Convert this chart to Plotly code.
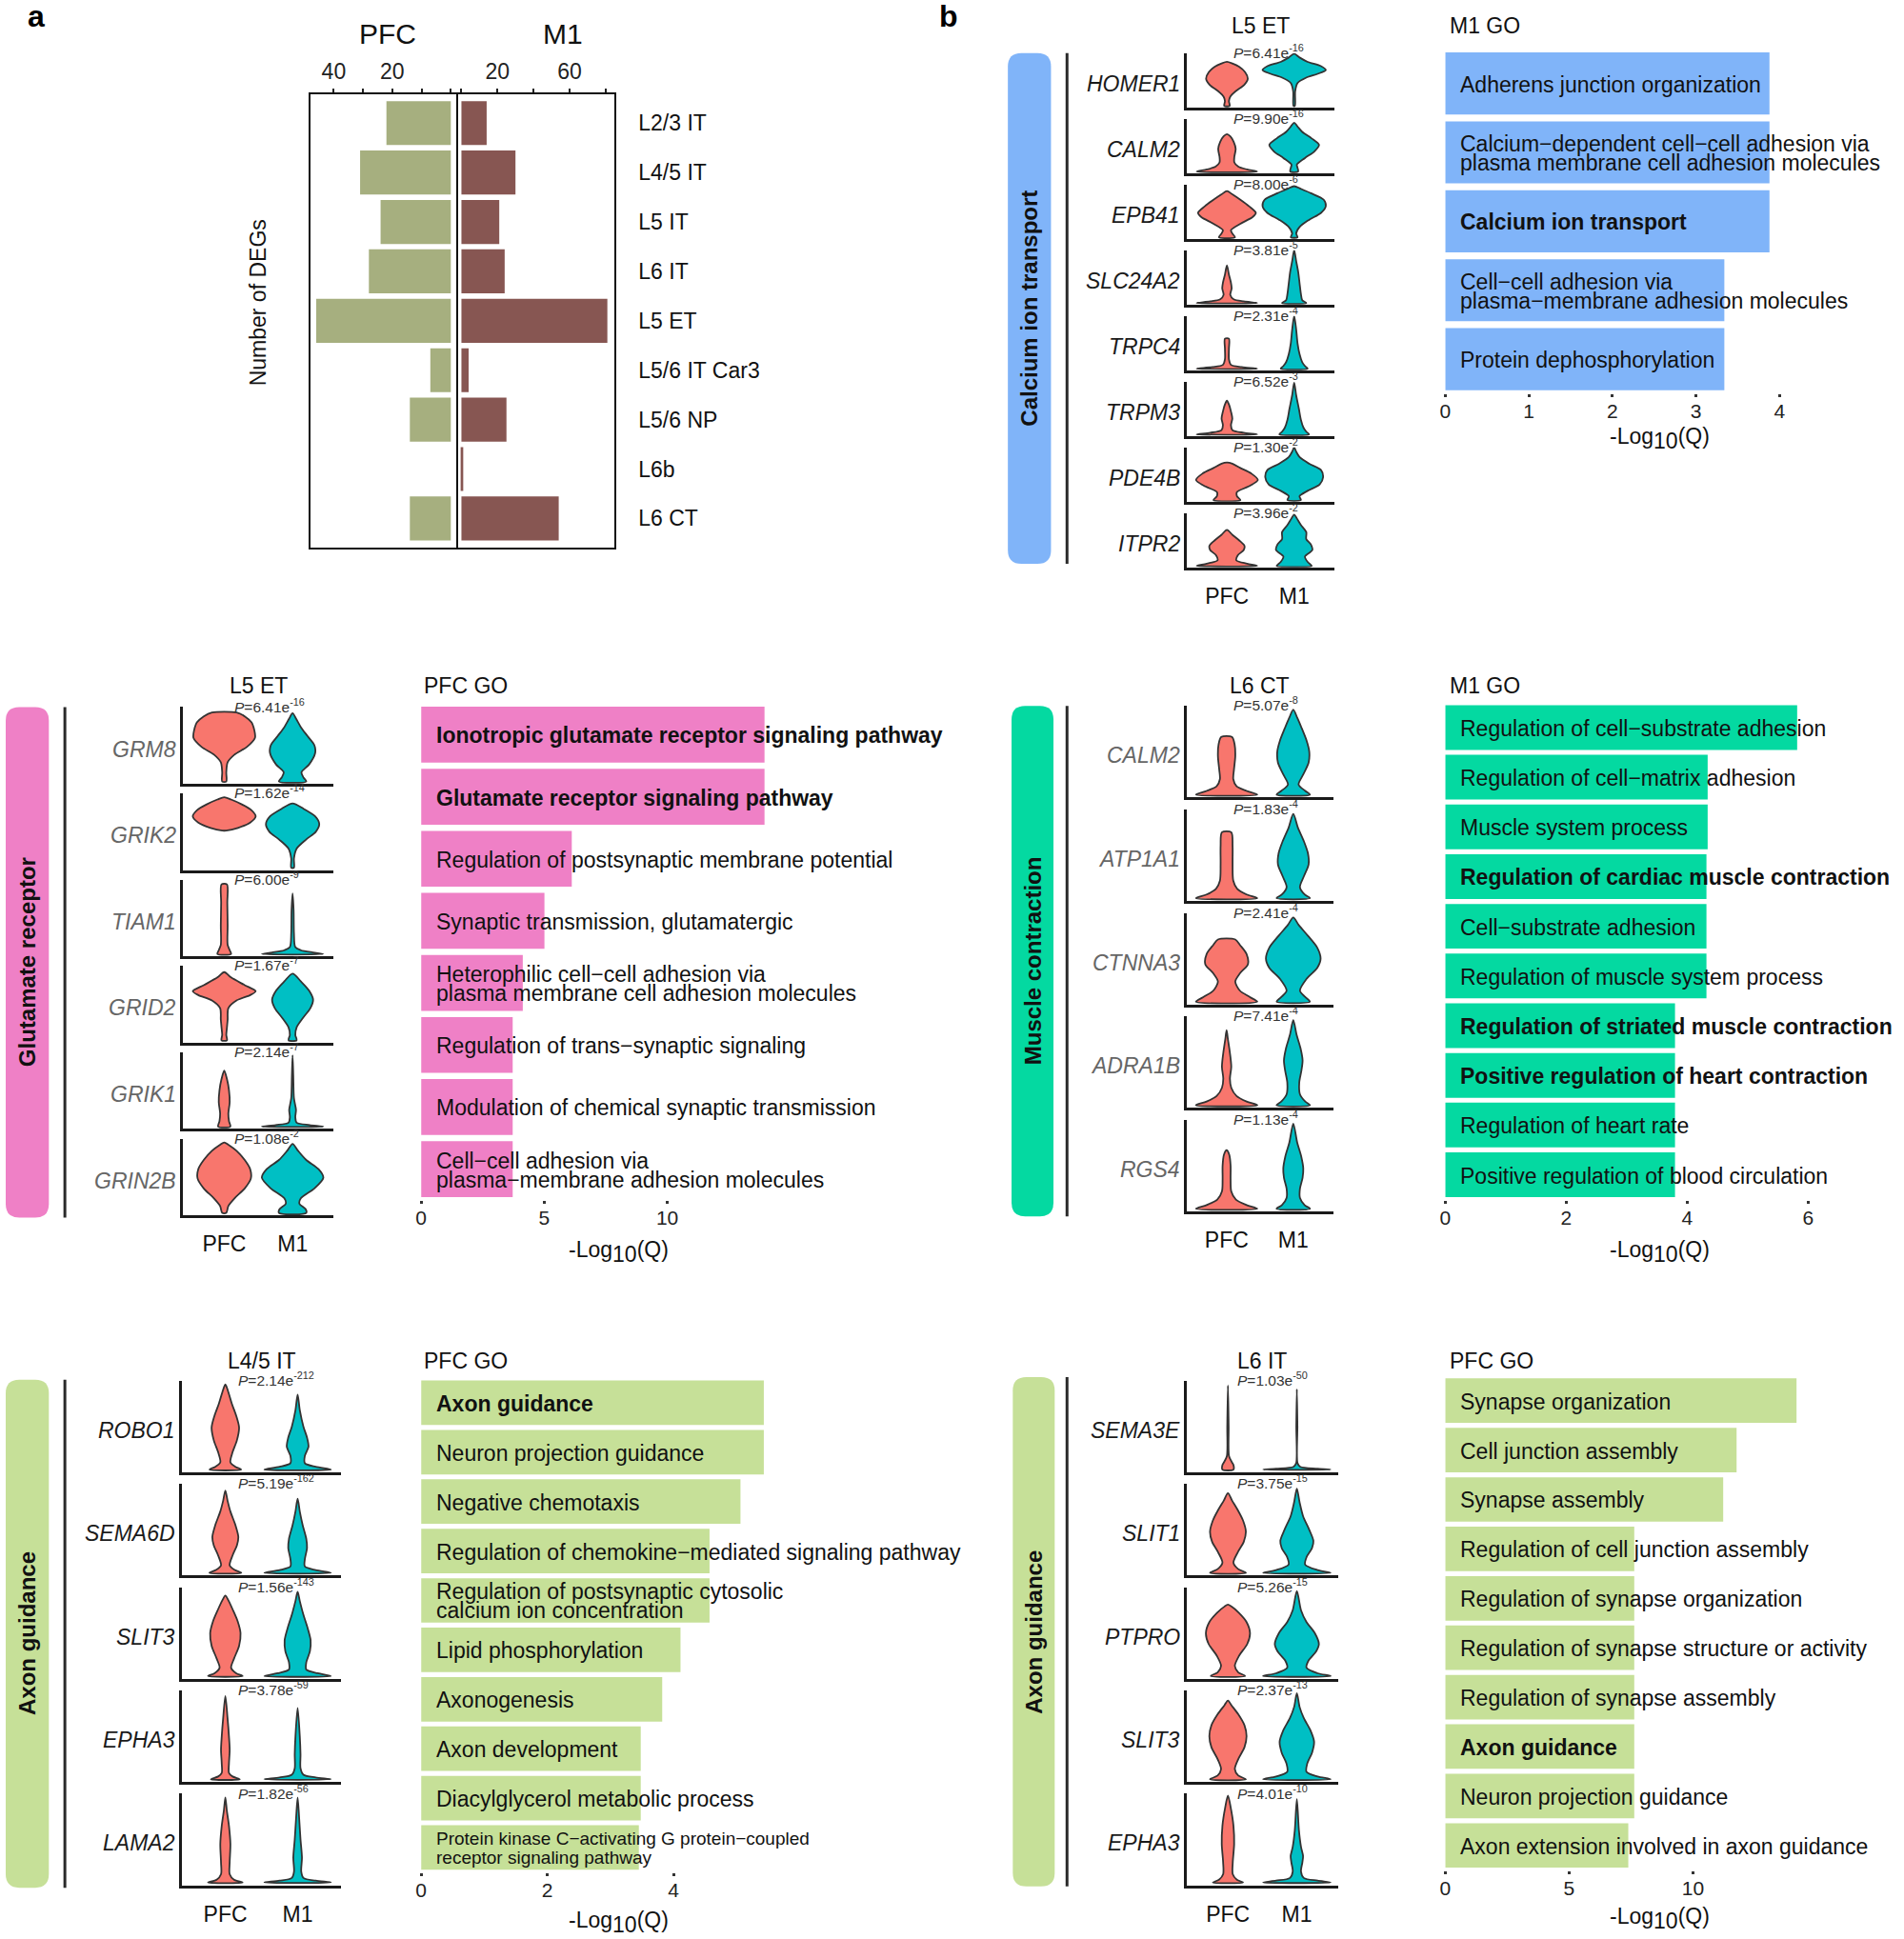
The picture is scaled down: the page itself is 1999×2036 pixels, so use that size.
import plotly.graph_objects as go

W, H = 1999, 2036
S = 1999 / 1540.0
FONT = "Liberation Sans, Arial, Helvetica, sans-serif"

# ---------------- panel a data ----------------
CELL_TYPES = ["L2/3 IT", "L4/5 IT", "L5 IT", "L6 IT", "L5 ET", "L5/6 IT Car3", "L5/6 NP", "L6b", "L6 CT"]
PFC_DEGS = [22, 31, 24, 28, 46, 7, 14, 0, 14]
M1_DEGS = [14, 30, 21, 24, 81, 4, 25, 1, 54]
PFC_TICKS = [0, 10, 20, 30, 40]
PFC_TICKTEXT = ["", "", "20", "", "40"]
M1_TICKS = [0, 20, 40, 60, 80]
M1_TICKTEXT = ["", "20", "", "60", ""]
GROUPS = ["PFC", "M1"]

# ---------------- calcium ion transport (L5 ET, M1 GO) ----------------
CA_GENES = ["HOMER1", "CALM2", "EPB41", "SLC24A2", "TRPC4", "TRPM3", "PDE4B", "ITPR2"]
CA_PVAL = [("6.41", "-16"), ("9.90", "-16"), ("8.00", "-6"), ("3.81", "-5"), ("2.31", "-4"),
           ("6.52", "-3"), ("1.30", "-2"), ("3.96", "-2")]
CA_VIOLIN_PFC = [
    [[0.03, 0.04], [0.12, 0.03], [0.2, 0.05], [0.3, 0.13], [0.42, 0.26], [0.53, 0.31], [0.65, 0.27], [0.75, 0.18], [0.81, 0.08], [0.84, 0.0]],
    [[0.03, 0.45], [0.07, 0.3], [0.12, 0.17], [0.2, 0.11], [0.3, 0.11], [0.45, 0.13], [0.58, 0.1], [0.68, 0.05], [0.72, 0.0]],
    [[0.03, 0.12], [0.1, 0.08], [0.16, 0.06], [0.28, 0.2], [0.4, 0.38], [0.48, 0.43], [0.6, 0.33], [0.72, 0.2], [0.82, 0.08], [0.88, 0.0]],
    [[0.03, 0.45], [0.06, 0.25], [0.1, 0.1], [0.18, 0.05], [0.3, 0.07], [0.4, 0.06], [0.55, 0.03], [0.72, 0.0]],
    [[0.03, 0.45], [0.06, 0.22], [0.1, 0.06], [0.2, 0.03], [0.4, 0.03], [0.58, 0.03]],
    [[0.03, 0.45], [0.06, 0.25], [0.11, 0.08], [0.2, 0.06], [0.32, 0.08], [0.45, 0.06], [0.58, 0.03], [0.65, 0.0]],
    [[0.03, 0.2], [0.1, 0.15], [0.18, 0.15], [0.28, 0.32], [0.4, 0.46], [0.52, 0.36], [0.62, 0.2], [0.7, 0.08], [0.72, 0.0]],
    [[0.03, 0.45], [0.07, 0.3], [0.13, 0.14], [0.22, 0.16], [0.32, 0.25], [0.4, 0.26], [0.5, 0.18], [0.6, 0.08], [0.69, 0.0]],
]
CA_VIOLIN_M1 = [
    [[0.03, 0.01], [0.3, 0.015], [0.45, 0.05], [0.55, 0.18], [0.62, 0.35], [0.69, 0.47], [0.76, 0.4], [0.84, 0.2], [0.92, 0.08], [0.99, 0.0]],
    [[0.03, 0.06], [0.1, 0.05], [0.16, 0.04], [0.28, 0.16], [0.4, 0.3], [0.52, 0.37], [0.64, 0.26], [0.76, 0.12], [0.86, 0.05], [0.93, 0.0]],
    [[0.03, 0.05], [0.1, 0.03], [0.22, 0.08], [0.35, 0.22], [0.48, 0.4], [0.6, 0.47], [0.72, 0.44], [0.84, 0.25], [0.92, 0.1], [0.97, 0.0]],
    [[0.03, 0.18], [0.08, 0.12], [0.2, 0.1], [0.4, 0.08], [0.6, 0.06], [0.8, 0.03], [1.0, 0.0]],
    [[0.03, 0.2], [0.08, 0.16], [0.15, 0.12], [0.3, 0.08], [0.5, 0.05], [0.75, 0.03], [1.0, 0.0]],
    [[0.03, 0.22], [0.08, 0.18], [0.15, 0.14], [0.3, 0.1], [0.5, 0.07], [0.75, 0.03], [0.98, 0.0]],
    [[0.03, 0.1], [0.1, 0.08], [0.2, 0.2], [0.32, 0.38], [0.45, 0.43], [0.58, 0.4], [0.7, 0.22], [0.82, 0.08], [0.92, 0.03], [1.0, 0.0]],
    [[0.03, 0.26], [0.1, 0.2], [0.2, 0.16], [0.32, 0.27], [0.42, 0.25], [0.52, 0.18], [0.65, 0.18], [0.78, 0.1], [0.9, 0.04], [0.97, 0.0]],
]
CA_TERMS = ["Adherens junction organization",
            "Calcium−dependent cell−cell adhesion via\nplasma membrane cell adhesion molecules",
            "Calcium ion transport",
            "Cell−cell adhesion via\nplasma−membrane adhesion molecules",
            "Protein dephosphorylation"]
CA_Q = [3.88, 3.88, 3.88, 3.34, 3.34]
CA_BOLD = [False, False, True, False, False]
CA_TICKS = [0, 1, 2, 3, 4]

# ---------------- glutamate receptor (L5 ET, PFC GO) ----------------
GLU_GENES = ["GRM8", "GRIK2", "TIAM1", "GRID2", "GRIK1", "GRIN2B"]
GLU_PVAL = [("6.41", "-16"), ("1.62", "-14"), ("6.00", "-9"), ("1.67", "-7"), ("2.14", "-7"), ("1.08", "-2")]
GLU_VIOLIN_PFC = [
    [[0.03, 0.03], [0.15, 0.03], [0.28, 0.05], [0.38, 0.15], [0.48, 0.33], [0.6, 0.45], [0.7, 0.44], [0.8, 0.4], [0.88, 0.3], [0.93, 0.18]],
    [[0.515, 0.03], [0.55, 0.2], [0.62, 0.38], [0.7, 0.46], [0.78, 0.4], [0.86, 0.25], [0.92, 0.1], [0.95, 0.0]],
    [[0.03, 0.1], [0.08, 0.08], [0.15, 0.05], [0.4, 0.05], [0.7, 0.045], [0.94, 0.04]],
    [[0.03, 0.04], [0.1, 0.03], [0.2, 0.04], [0.3, 0.05], [0.45, 0.06], [0.55, 0.18], [0.62, 0.38], [0.67, 0.46], [0.75, 0.3], [0.85, 0.1], [0.92, 0.0]],
    [[0.03, 0.09], [0.1, 0.07], [0.2, 0.06], [0.35, 0.08], [0.5, 0.07], [0.65, 0.04], [0.76, 0.0]],
    [[0.03, 0.03], [0.12, 0.06], [0.22, 0.15], [0.35, 0.3], [0.48, 0.39], [0.6, 0.38], [0.72, 0.3], [0.84, 0.18], [0.92, 0.06], [0.95, 0.0]],
]
GLU_VIOLIN_M1 = [
    [[0.03, 0.2], [0.08, 0.16], [0.15, 0.13], [0.25, 0.24], [0.4, 0.33], [0.5, 0.32], [0.62, 0.22], [0.74, 0.12], [0.85, 0.05], [0.92, 0.0]],
    [[0.03, 0.02], [0.15, 0.02], [0.28, 0.06], [0.4, 0.2], [0.5, 0.34], [0.6, 0.39], [0.7, 0.33], [0.8, 0.16], [0.87, 0.0]],
    [[0.03, 0.45], [0.05, 0.3], [0.08, 0.12], [0.12, 0.04], [0.3, 0.02], [0.6, 0.015], [0.82, 0.0]],
    [[0.03, 0.06], [0.1, 0.04], [0.2, 0.06], [0.32, 0.15], [0.45, 0.26], [0.56, 0.3], [0.68, 0.24], [0.8, 0.12], [0.9, 0.0]],
    [[0.03, 0.45], [0.05, 0.25], [0.08, 0.06], [0.15, 0.04], [0.25, 0.05], [0.4, 0.02], [0.7, 0.01], [0.96, 0.0]],
    [[0.03, 0.2], [0.08, 0.19], [0.15, 0.1], [0.22, 0.12], [0.35, 0.32], [0.49, 0.45], [0.6, 0.38], [0.72, 0.2], [0.84, 0.08], [0.93, 0.0]],
]
GLU_TERMS = ["Ionotropic glutamate receptor signaling pathway",
             "Glutamate receptor signaling pathway",
             "Regulation of postsynaptic membrane potential",
             "Synaptic transmission, glutamatergic",
             "Heterophilic cell−cell adhesion via\nplasma membrane cell adhesion molecules",
             "Regulation of trans−synaptic signaling",
             "Modulation of chemical synaptic transmission",
             "Cell−cell adhesion via\nplasma−membrane adhesion molecules"]
GLU_Q = [13.95, 13.95, 6.12, 5.01, 4.13, 3.72, 3.72, 3.72]
GLU_BOLD = [True, True, False, False, False, False, False, False]
GLU_TICKS = [0, 5, 10]

# ---------------- muscle contraction (L6 CT, M1 GO) ----------------
MUS_GENES = ["CALM2", "ATP1A1", "CTNNA3", "ADRA1B", "RGS4"]
MUS_PVAL = [("5.07", "-8"), ("1.83", "-4"), ("2.41", "-4"), ("7.41", "-4"), ("1.13", "-4")]
MUS_VIOLIN_PFC = [
    [[0.03, 0.46], [0.07, 0.3], [0.12, 0.15], [0.2, 0.1], [0.3, 0.11], [0.45, 0.13], [0.58, 0.12], [0.66, 0.08]],
    [[0.03, 0.46], [0.07, 0.3], [0.13, 0.16], [0.22, 0.1], [0.4, 0.09], [0.6, 0.09], [0.75, 0.07]],
    [[0.03, 0.46], [0.08, 0.35], [0.15, 0.2], [0.25, 0.13], [0.34, 0.2], [0.44, 0.32], [0.55, 0.3], [0.65, 0.2], [0.71, 0.13]],
    [[0.03, 0.46], [0.07, 0.3], [0.13, 0.15], [0.22, 0.07], [0.32, 0.05], [0.45, 0.07], [0.6, 0.05], [0.75, 0.02], [0.85, 0.0]],
    [[0.03, 0.46], [0.07, 0.3], [0.13, 0.14], [0.22, 0.07], [0.35, 0.06], [0.5, 0.06], [0.62, 0.04], [0.67, 0.0]],
]
MUS_VIOLIN_M1 = [
    [[0.03, 0.25], [0.07, 0.18], [0.14, 0.08], [0.25, 0.15], [0.38, 0.23], [0.5, 0.24], [0.62, 0.2], [0.75, 0.13], [0.87, 0.06], [0.96, 0.0]],
    [[0.03, 0.25], [0.07, 0.17], [0.15, 0.1], [0.27, 0.16], [0.4, 0.23], [0.52, 0.22], [0.65, 0.16], [0.8, 0.07], [0.95, 0.0]],
    [[0.03, 0.25], [0.08, 0.18], [0.15, 0.1], [0.28, 0.2], [0.4, 0.36], [0.5, 0.41], [0.62, 0.36], [0.75, 0.22], [0.87, 0.08], [0.95, 0.0]],
    [[0.03, 0.25], [0.07, 0.18], [0.15, 0.1], [0.28, 0.09], [0.4, 0.12], [0.52, 0.14], [0.65, 0.11], [0.8, 0.05], [0.96, 0.0]],
    [[0.03, 0.25], [0.07, 0.17], [0.15, 0.1], [0.25, 0.1], [0.37, 0.14], [0.47, 0.15], [0.6, 0.12], [0.75, 0.06], [0.96, 0.0]],
]
MUS_TERMS = ["Regulation of cell−substrate adhesion", "Regulation of cell−matrix adhesion",
             "Muscle system process", "Regulation of cardiac muscle contraction",
             "Cell−substrate adhesion", "Regulation of muscle system process",
             "Regulation of striated muscle contraction", "Positive regulation of heart contraction",
             "Regulation of heart rate", "Positive regulation of blood circulation"]
MUS_Q = [5.82, 4.34, 4.34, 4.32, 4.32, 4.32, 3.80, 3.80, 3.80, 3.80]
MUS_BOLD = [False, False, False, True, False, False, True, True, False, False]
MUS_TICKS = [0, 2, 4, 6]

# ---------------- axon guidance (L4/5 IT, PFC GO) ----------------
AX1_GENES = ["ROBO1", "SEMA6D", "SLIT3", "EPHA3", "LAMA2"]
AX1_PVAL = [("2.14", "-212"), ("5.19", "-162"), ("1.56", "-143"), ("3.78", "-59"), ("1.82", "-56")]
AX1_VIOLIN_PFC = [
    [[0.03, 0.22], [0.06, 0.14], [0.11, 0.07], [0.22, 0.1], [0.35, 0.16], [0.49, 0.19], [0.62, 0.15], [0.75, 0.09], [0.88, 0.04], [0.96, 0.0]],
    [[0.03, 0.22], [0.06, 0.13], [0.11, 0.06], [0.22, 0.1], [0.33, 0.16], [0.42, 0.18], [0.55, 0.14], [0.7, 0.07], [0.82, 0.03], [0.93, 0.0]],
    [[0.03, 0.24], [0.06, 0.15], [0.12, 0.08], [0.22, 0.12], [0.36, 0.19], [0.5, 0.21], [0.63, 0.17], [0.76, 0.1], [0.86, 0.04], [0.91, 0.0]],
    [[0.03, 0.2], [0.06, 0.1], [0.1, 0.05], [0.2, 0.05], [0.35, 0.06], [0.5, 0.05], [0.7, 0.03], [0.94, 0.0]],
    [[0.03, 0.24], [0.06, 0.12], [0.12, 0.06], [0.25, 0.06], [0.45, 0.07], [0.65, 0.05], [0.82, 0.02], [0.96, 0.0]],
]
AX1_VIOLIN_M1 = [
    [[0.03, 0.46], [0.06, 0.25], [0.1, 0.1], [0.18, 0.1], [0.28, 0.15], [0.38, 0.13], [0.5, 0.08], [0.68, 0.03], [0.85, 0.0]],
    [[0.03, 0.46], [0.06, 0.25], [0.1, 0.1], [0.18, 0.1], [0.3, 0.13], [0.4, 0.12], [0.55, 0.07], [0.7, 0.03], [0.84, 0.0]],
    [[0.03, 0.46], [0.06, 0.28], [0.1, 0.12], [0.18, 0.12], [0.3, 0.17], [0.42, 0.18], [0.55, 0.14], [0.7, 0.08], [0.85, 0.03], [0.95, 0.0]],
    [[0.03, 0.46], [0.05, 0.25], [0.08, 0.08], [0.15, 0.04], [0.3, 0.04], [0.5, 0.03], [0.81, 0.0]],
    [[0.03, 0.46], [0.05, 0.25], [0.08, 0.08], [0.15, 0.05], [0.3, 0.06], [0.5, 0.04], [0.75, 0.02], [0.96, 0.0]],
]
AX1_TERMS = ["Axon guidance", "Neuron projection guidance", "Negative chemotaxis",
             "Regulation of chemokine−mediated signaling pathway",
             "Regulation of postsynaptic cytosolic\ncalcium ion concentration",
             "Lipid phosphorylation", "Axonogenesis", "Axon development",
             "Diacylglycerol metabolic process",
             "Protein kinase C−activating G protein−coupled\nreceptor signaling pathway"]
AX1_Q = [5.43, 5.43, 5.06, 4.57, 4.57, 4.11, 3.82, 3.48, 3.48, 3.45]
AX1_BOLD = [True, False, False, False, False, False, False, False, False, False]
AX1_TICKS = [0, 2, 4]
SMALL_TERMS = {"Protein kinase C−activating G protein−coupled\nreceptor signaling pathway"}

# ---------------- axon guidance (L6 IT, PFC GO) ----------------
AX2_GENES = ["SEMA3E", "SLIT1", "PTPRO", "SLIT3", "EPHA3"]
AX2_PVAL = [("1.03", "-50"), ("3.75", "-15"), ("5.26", "-15"), ("2.37", "-13"), ("4.01", "-10")]
AX2_VIOLIN_PFC = [
    [[0.03, 0.08], [0.08, 0.08], [0.12, 0.05], [0.18, 0.015], [0.5, 0.01], [0.95, 0.0]],
    [[0.03, 0.26], [0.07, 0.15], [0.14, 0.08], [0.25, 0.14], [0.37, 0.23], [0.48, 0.26], [0.6, 0.22], [0.72, 0.14], [0.82, 0.06], [0.9, 0.0]],
    [[0.03, 0.25], [0.07, 0.15], [0.14, 0.1], [0.25, 0.16], [0.38, 0.28], [0.5, 0.32], [0.62, 0.27], [0.72, 0.16], [0.79, 0.05], [0.81, 0.0]],
    [[0.03, 0.26], [0.07, 0.15], [0.14, 0.1], [0.25, 0.15], [0.38, 0.24], [0.5, 0.27], [0.62, 0.24], [0.74, 0.15], [0.84, 0.05], [0.89, 0.0]],
    [[0.03, 0.22], [0.06, 0.13], [0.12, 0.07], [0.25, 0.07], [0.45, 0.09], [0.65, 0.08], [0.85, 0.04], [0.98, 0.0]],
]
AX2_VIOLIN_M1 = [
    [[0.03, 0.49], [0.04, 0.3], [0.06, 0.05], [0.1, 0.01], [0.5, 0.008], [0.91, 0.0]],
    [[0.03, 0.49], [0.06, 0.3], [0.12, 0.12], [0.2, 0.14], [0.3, 0.22], [0.38, 0.24], [0.5, 0.18], [0.65, 0.09], [0.8, 0.04], [0.95, 0.0]],
    [[0.03, 0.49], [0.06, 0.3], [0.12, 0.14], [0.2, 0.17], [0.3, 0.28], [0.38, 0.32], [0.5, 0.26], [0.62, 0.14], [0.75, 0.06], [0.96, 0.0]],
    [[0.03, 0.49], [0.06, 0.3], [0.11, 0.14], [0.2, 0.15], [0.32, 0.22], [0.44, 0.25], [0.56, 0.2], [0.7, 0.1], [0.82, 0.04], [0.97, 0.0]],
    [[0.03, 0.49], [0.05, 0.3], [0.08, 0.1], [0.15, 0.06], [0.25, 0.08], [0.32, 0.09], [0.42, 0.06], [0.6, 0.03], [0.94, 0.0]],
]
AX2_TERMS = ["Synapse organization", "Cell junction assembly", "Synapse assembly",
             "Regulation of cell junction assembly", "Regulation of synapse organization",
             "Regulation of synapse structure or activity", "Regulation of synapse assembly",
             "Axon guidance", "Neuron projection guidance",
             "Axon extension involved in axon guidance"]
AX2_Q = [14.18, 11.76, 11.22, 7.63, 7.63, 7.63, 7.63, 7.63, 7.63, 7.39]
AX2_BOLD = [False, False, False, False, False, False, False, True, False, False]
AX2_TICKS = [0, 5, 10]

# ---------------- colours ----------------
PFC_BAR = "#a6af7f"
M1_BAR = "#875652"
PFC_VIO = "#F8766D"
M1_VIO = "#00BFC4"
CA_COLOR = "#80b4f9"
GLU_COLOR = "#ef80c6"
MUS_COLOR = "#04d9a1"
AX_COLOR = "#c6e098"

# ---------------- helpers ----------------
fig = go.Figure()
axes = {}
annotations = []
shapes = []
cnt = [0]


def fx(v):
    return min(max(v * S / W, 0.0), 1.0)


def fy(v):
    return min(max(1.0 - v * S / H, 0.0), 1.0)


def add_axes(x0, x1, y0, y1, xopt, yopt):
    cnt[0] += 1
    k = cnt[0]
    sfx = "" if k == 1 else str(k)
    xd = dict(domain=[fx(x0), fx(x1)], anchor="y" + sfx)
    xd.update(xopt)
    yd = dict(domain=[fy(y1), fy(y0)], anchor="x" + sfx)
    yd.update(yopt)
    axes["xaxis" + sfx] = xd
    axes["yaxis" + sfx] = yd
    return "x" + sfx, "y" + sfx


def ann(x, y, text, size=23, color="#111111", xanchor="center", yanchor="middle", angle=0, **kw):
    d = dict(x=x, y=y, text=text, showarrow=False, xanchor=xanchor, yanchor=yanchor,
             textangle=angle, font=dict(size=size, color=color, family=FONT))
    if "xref" not in kw:
        d["xref"] = "paper"
        d["yref"] = "paper"
    d.update(kw)
    annotations.append(d)


def rrect(x0, y0, x1, y1, r, color):
    rx, ry = r * S / W, r * S / H
    X0, X1 = x0 * S / W, x1 * S / W
    YT, YB = 1 - y0 * S / H, 1 - y1 * S / H
    p = (f"M {X0 + rx},{YT} L {X1 - rx},{YT} Q {X1},{YT} {X1},{YT - ry} "
         f"L {X1},{YB + ry} Q {X1},{YB} {X1 - rx},{YB} L {X0 + rx},{YB} "
         f"Q {X0},{YB} {X0},{YB + ry} L {X0},{YT - ry} Q {X0},{YT} {X0 + rx},{YT} Z")
    shapes.append(dict(type="path", path=p, xref="paper", yref="paper",
                       fillcolor=color, line=dict(width=0), layer="below"))


def violin_xy(center, profile):
    ys = [p[0] for p in profile]
    hws = [p[1] for p in profile]
    xr = [center + h for h in hws]
    if hws[-1] == 0:
        xl = [center - h for h in reversed(hws[:-1])]
        yl = list(reversed(ys[:-1]))
    else:
        xl = [center - h for h in reversed(hws)]
        yl = list(reversed(ys))
    return xr + xl + [xr[0]], ys + yl + [ys[0]]


LOG_TITLE = '-Log<sub><span style="font-size:23px">10</span></sub>(Q)'

# ---------------- panel a ----------------
ann(fx(25), fy(13), "<b>a</b>", size=32, color="#000")
ann(fx(310), fy(27), "PFC", size=30, color="#111")
ann(fx(452), fy(27), "M1", size=30, color="#111")
ann(fx(205), fy(245), "Number of DEGs", size=23, angle=-90)

common_x = dict(side="top", ticks="outside", ticklen=4, tickwidth=2, tickcolor="#222",
                showline=True, mirror=True, linecolor="#111", linewidth=2,
                showgrid=False, zeroline=False, tickfont=dict(size=23, color="#222", family=FONT))
common_y = dict(type="category", categoryarray=CELL_TYPES, range=[8.59, -0.59],
                showline=True, linecolor="#111", linewidth=2,
                showgrid=False, zeroline=False, ticks="")
xa, ya = add_axes(246.9, 365.2, 76, 443,
                  dict(common_x, range=[48.1, -1.73], tickvals=PFC_TICKS, ticktext=PFC_TICKTEXT),
                  dict(common_y, mirror=True, showticklabels=False))
fig.add_trace(go.Bar(x=PFC_DEGS, y=CELL_TYPES, orientation="h", width=0.89,
                     marker=dict(color=PFC_BAR, line=dict(width=0)), xaxis=xa, yaxis=ya, hoverinfo="skip"))
xb, yb = add_axes(365.2, 493.5, 76, 443,
                  dict(common_x, range=[-3.08, 84.7], tickvals=M1_TICKS, ticktext=M1_TICKTEXT),
                  dict(common_y, mirror=False, side="right", showticklabels=True, ticklabelstandoff=19,
                       tickfont=dict(size=23, color="#111", family=FONT)))
fig.add_trace(go.Bar(x=M1_DEGS, y=CELL_TYPES, orientation="h", width=0.89,
                     marker=dict(color=M1_BAR, line=dict(width=0)), xaxis=xb, yaxis=yb, hoverinfo="skip"))

ann(fx(765), fy(13), "<b>b</b>", size=32, color="#000")

# ---------------- violin panels ----------------
VIOLIN_PANELS = [
    dict(genes=CA_GENES, pvals=CA_PVAL, pfc=CA_VIOLIN_PFC, m1=CA_VIOLIN_M1, box_x=(958, 1078),
         first_bottom=87, pitch=53.14, height=44, gene_color="#1a1a1a", title="L5 ET", title_y=21,
         p_dx=36.4, label=(813, 43, 848, 456, "Calcium ion transport", CA_COLOR), line_x=861),
    dict(genes=GLU_GENES, pvals=GLU_PVAL, pfc=GLU_VIOLIN_PFC, m1=GLU_VIOLIN_M1, box_x=(144, 266),
         first_bottom=634, pitch=69.8, height=62, gene_color="#666666", title="L5 ET", title_y=555,
         p_dx=39.7, label=(0, 572, 35, 985, "Glutamate receptor", GLU_COLOR), line_x=48),
    dict(genes=MUS_GENES, pvals=MUS_PVAL, pfc=MUS_VIOLIN_PFC, m1=MUS_VIOLIN_M1, box_x=(958, 1077),
         first_bottom=645, pitch=83.75, height=74, gene_color="#666666", title="L6 CT", title_y=555,
         p_dx=36.6, label=(816, 571, 850, 984, "Muscle contraction", MUS_COLOR), line_x=861),
    dict(genes=AX1_GENES, pvals=AX1_PVAL, pfc=AX1_VIOLIN_PFC, m1=AX1_VIOLIN_M1, box_x=(143, 272),
         first_bottom=1191, pitch=83.5, height=74, gene_color="#1a1a1a", title="L4/5 IT", title_y=1101,
         p_dx=43.8, label=(0, 1116, 35, 1527, "Axon guidance", AX_COLOR), line_x=48),
    dict(genes=AX2_GENES, pvals=AX2_PVAL, pfc=AX2_VIOLIN_PFC, m1=AX2_VIOLIN_M1, box_x=(958, 1081),
         first_bottom=1191, pitch=83.5, height=74, gene_color="#1a1a1a", title="L6 IT", title_y=1101,
         p_dx=39.5, label=(817, 1114, 851, 1526, "Axon guidance", AX_COLOR), line_x=861),
]

VX = dict(range=[0.4, 2.6], showline=True, linecolor="#1a1a1a", linewidth=2.5, showgrid=False,
          zeroline=False, ticks="", showticklabels=False, fixedrange=True)
VY = dict(range=[0, 1], showline=True, linecolor="#1a1a1a", linewidth=2.5, showgrid=False,
          zeroline=False, ticks="", showticklabels=False, fixedrange=True)

for pan in VIOLIN_PANELS:
    bx0, bx1 = pan["box_x"]
    n = len(pan["genes"])
    lx0, ly0, lx1, ly1, ltxt, lcol = pan["label"]
    rrect(lx0, ly0, lx1, ly1, 11, lcol)
    ann(fx((lx0 + lx1) / 2), fy((ly0 + ly1) / 2), f"<b>{ltxt}</b>", size=24, color="#111", angle=-90)
    shapes.append(dict(type="line", xref="paper", yref="paper", x0=fx(pan["line_x"]), x1=fx(pan["line_x"]),
                       y0=fy(ly0), y1=fy(ly1), line=dict(color="#2a2a2a", width=3)))
    ann(fx((bx0 + bx1) / 2), fy(pan["title_y"]), pan["title"], size=23)
    for i, gene in enumerate(pan["genes"]):
        bottom = pan["first_bottom"] + i * pan["pitch"]
        top = bottom - pan["height"]
        xo = dict(VX)
        if i == n - 1:
            xo.update(showticklabels=True, tickvals=[1, 2], ticktext=GROUPS, ticklabelstandoff=8,
                      tickfont=dict(size=23, color="#111", family=FONT))
        xr, yr = add_axes(bx0, bx1, top, bottom, xo, dict(VY))
        for center, prof, col in ((1, pan["pfc"][i], PFC_VIO), (2, pan["m1"][i], M1_VIO)):
            vx, vy = violin_xy(center, prof)
            fig.add_trace(go.Scatter(x=vx, y=vy, xaxis=xr, yaxis=yr, mode="lines", fill="toself",
                                     fillcolor=col, line=dict(color="#333333", width=1.8, shape="spline", smoothing=0.8),
                                     hoverinfo="skip"))
        ann(fx(bx0 - 4), fy((top + bottom) / 2 + 3), f"<i>{gene}</i>", size=23, color=pan["gene_color"],
            xanchor="right")
        m, e = pan["pvals"][i]
        ann(fx(bx0 + pan["p_dx"]), fy(top - 1.5), f"<i>P</i>={m}e<sup>{e}</sup>", size=15.5, color="#333",
            xanchor="left", yanchor="middle")

# ---------------- GO bar panels ----------------
GO_PANELS = [
    dict(terms=CA_TERMS, q=CA_Q, bold=CA_BOLD, color=CA_COLOR, ticks=CA_TICKS, x0=1167.8, unit=67.8,
         first=67.5, pitch=55.75, span=350, title="M1 GO", title_xy=(1170, 21), axis_title_xy=(1342, 355)),
    dict(terms=GLU_TERMS, q=GLU_Q, bold=GLU_BOLD, color=GLU_COLOR, ticks=GLU_TICKS, x0=337, unit=19.97,
         first=594.3, pitch=50.2, span=320, title="PFC GO", title_xy=(338, 555), axis_title_xy=(497, 1013)),
    dict(terms=MUS_TERMS, q=MUS_Q, bold=MUS_BOLD, color=MUS_COLOR, ticks=MUS_TICKS, x0=1167.8, unit=49.06,
         first=588.5, pitch=40.2, span=350, title="M1 GO", title_xy=(1170, 555), axis_title_xy=(1342, 1013)),
    dict(terms=AX1_TERMS, q=AX1_Q, bold=AX1_BOLD, color=AX_COLOR, ticks=AX1_TICKS, x0=337, unit=51.2,
         first=1134.7, pitch=39.98, span=320, title="PFC GO", title_xy=(338, 1101), axis_title_xy=(497, 1555)),
    dict(terms=AX2_TERMS, q=AX2_Q, bold=AX2_BOLD, color=AX_COLOR, ticks=AX2_TICKS, x0=1167.8, unit=20.1,
         first=1133, pitch=39.98, span=350, title="PFC GO", title_xy=(1170, 1101), axis_title_xy=(1342, 1552)),
]

for gp in GO_PANELS:
    n = len(gp["terms"])
    y0 = gp["first"] - gp["pitch"] / 2
    y1 = gp["first"] + (n - 0.5) * gp["pitch"]
    xo = dict(range=[0, gp["span"] / gp["unit"]], showline=False, showgrid=False, zeroline=False,
              ticks="outside", ticklen=3, tickwidth=2.5, tickcolor="#333", tickvals=gp["ticks"],
              ticklabelstandoff=-3,
              tickfont=dict(size=21, color="#222", family=FONT), fixedrange=True)
    yo = dict(range=[n - 0.5, -0.5], showline=False, showgrid=False, zeroline=False,
              showticklabels=False, ticks="", fixedrange=True)
    xr, yr = add_axes(gp["x0"], gp["x0"] + gp["span"], y0, y1, xo, yo)
    idx = list(range(n))
    fig.add_trace(go.Bar(x=gp["q"], y=idx, orientation="h", width=0.9,
                         marker=dict(color=gp["color"], line=dict(width=0)),
                         xaxis=xr, yaxis=yr, hoverinfo="skip"))
    for i, term in enumerate(gp["terms"]):
        lines = term.split("\n")
        size = 19 if term in SMALL_TERMS else 23
        shifts = [-1] if len(lines) == 1 else [9, -11]
        for line, sh in zip(lines, shifts):
            txt = f"<b>{line}</b>" if gp["bold"][i] else line
            ann(0, i, txt, size=size, color="#111", xanchor="left", xref=xr, yref=yr, xshift=14, yshift=sh)
    ann(fx(gp["title_xy"][0]), fy(gp["title_xy"][1]), gp["title"], size=23, xanchor="left")
    ann(fx(gp["axis_title_xy"][0]), fy(gp["axis_title_xy"][1]), LOG_TITLE, size=23)

fig.update_layout(
    width=W, height=H, margin=dict(l=0, r=0, t=0, b=0),
    paper_bgcolor="white", plot_bgcolor="rgba(0,0,0,0)", showlegend=False,
    font=dict(family=FONT, size=23, color="#111"),
    annotations=annotations, shapes=shapes, bargap=0.1, **axes,
)
fig.write_html("out.html", config={"displayModeBar": False},
               post_script="document.body.style.margin='0px';document.body.style.padding='0px';")
